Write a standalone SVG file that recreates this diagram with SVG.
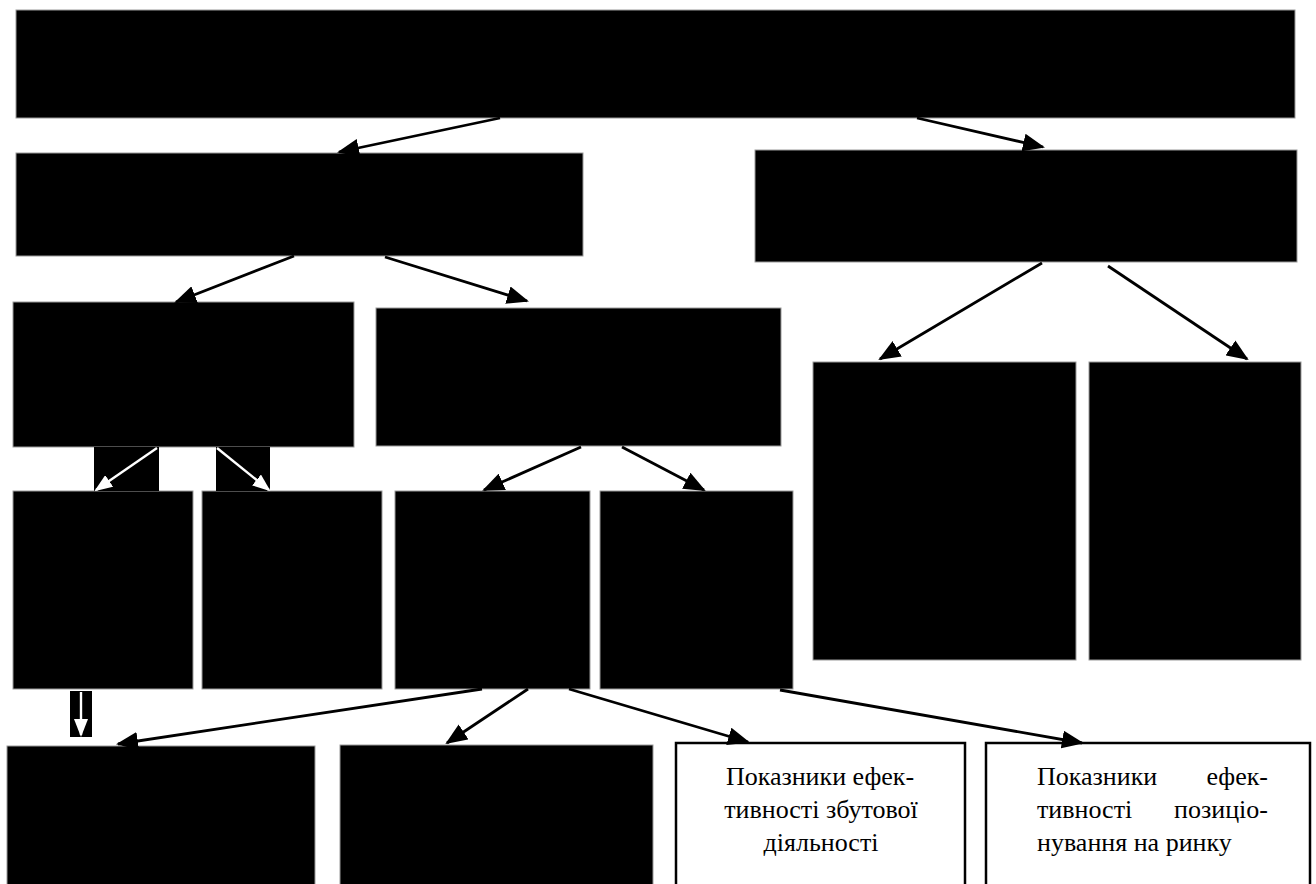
<svg xmlns="http://www.w3.org/2000/svg" width="1316" height="884" viewBox="0 0 1316 884">
<style>
.blk{fill:#000;stroke:#9a9a9a;stroke-width:1}
.wbox{fill:#fff;stroke:#000;stroke-width:2.5}
.edge{fill:none;stroke:#000;stroke-width:2.8}
.wedge{fill:none;stroke:#fff;stroke-width:2.4}
</style>
<defs>
<marker id="ah" markerUnits="userSpaceOnUse" markerWidth="22" markerHeight="18" viewBox="0 0 22 18" refX="20" refY="9" orient="auto">
<path d="M0,0 L22,9 L0,18 z" fill="#000"/>
</marker>
<marker id="wah" markerUnits="userSpaceOnUse" markerWidth="18" markerHeight="14" viewBox="0 0 18 14" refX="16" refY="7" orient="auto">
<path d="M0,0 L18,7 L0,14 z" fill="#fff"/>
</marker>
</defs>
<rect width="1316" height="884" fill="#fff"/>
<g id="n0"><rect class="blk" x="16" y="10" width="1279" height="108"/></g>
<g id="n1"><rect class="blk" x="16" y="153" width="567" height="103"/></g>
<g id="n2"><rect class="blk" x="755" y="150" width="542" height="112"/></g>
<g id="n3"><rect class="blk" x="13" y="302" width="341" height="145"/></g>
<g id="n4"><rect class="blk" x="376" y="308" width="405" height="138"/></g>
<g id="n5"><rect class="blk" x="813" y="362" width="263" height="298"/></g>
<g id="n6"><rect class="blk" x="1089" y="362" width="212" height="298"/></g>
<g id="n7"><rect class="blk" x="13" y="491" width="180" height="198"/></g>
<g id="n8"><rect class="blk" x="202" y="491" width="180" height="198"/></g>
<g id="n9"><rect class="blk" x="395" y="491" width="195" height="198"/></g>
<g id="n10"><rect class="blk" x="600" y="491" width="193" height="198"/></g>
<g id="n11"><rect class="blk" x="7" y="746" width="308" height="150"/></g>
<g id="n12"><rect class="blk" x="340" y="745" width="313" height="150"/></g>
<g id="n13" font-family="'Liberation Serif', 'DejaVu Serif', serif" font-size="26" fill="#000">
<rect class="wbox" x="676" y="743" width="289" height="152"/>
<text text-anchor="middle" x="820" y="785">Показники ефек-</text>
<text text-anchor="middle" x="821" y="818">тивності збутової</text>
<text text-anchor="middle" x="821" y="851">діяльності</text>
</g>
<g id="n14" font-family="'Liberation Serif', 'DejaVu Serif', serif" font-size="26" fill="#000">
<rect class="wbox" x="986" y="743" width="324" height="152"/>
<text y="785"><tspan x="1037">Показники</tspan><tspan x="1268" text-anchor="end">ефек-</tspan></text>
<text y="818"><tspan x="1037">тивності</tspan><tspan x="1268" text-anchor="end">позиціо-</tspan></text>
<text x="1037" y="851">нування на ринку</text>
</g>
<g id="patches">
<rect x="94" y="447" width="65" height="44" fill="#000"/>
<rect x="216" y="447" width="54" height="44" fill="#000"/>
<rect x="70" y="691" width="22" height="46" fill="#000"/>
</g>
<g id="connectors">
<line class="edge" x1="500" y1="118" x2="339" y2="152" marker-end="url(#ah)"/>
<line class="edge" x1="917" y1="118" x2="1043" y2="147" marker-end="url(#ah)"/>
<line class="edge" x1="294" y1="256" x2="176" y2="302" marker-end="url(#ah)"/>
<line class="edge" x1="385" y1="257" x2="527" y2="301" marker-end="url(#ah)"/>
<line class="edge" x1="1042" y1="263" x2="880" y2="359" marker-end="url(#ah)"/>
<line class="edge" x1="1108" y1="266" x2="1247" y2="359" marker-end="url(#ah)"/>
<line class="edge" x1="581" y1="447" x2="484" y2="490" marker-end="url(#ah)"/>
<line class="edge" x1="622" y1="447" x2="704" y2="490" marker-end="url(#ah)"/>
<line class="edge" x1="482" y1="689" x2="118" y2="744" marker-end="url(#ah)"/>
<line class="edge" x1="528" y1="689" x2="447" y2="743" marker-end="url(#ah)"/>
<line class="edge" x1="569" y1="689" x2="748" y2="742" marker-end="url(#ah)"/>
<line class="edge" x1="780" y1="690" x2="1082" y2="743" marker-end="url(#ah)"/>
<line class="wedge" x1="157" y1="448" x2="96" y2="490" marker-end="url(#wah)"/>
<line class="wedge" x1="217" y1="448" x2="269" y2="490" marker-end="url(#wah)"/>
<line class="wedge" x1="81" y1="692" x2="81" y2="735" marker-end="url(#wah)"/>
</g>
</svg>
